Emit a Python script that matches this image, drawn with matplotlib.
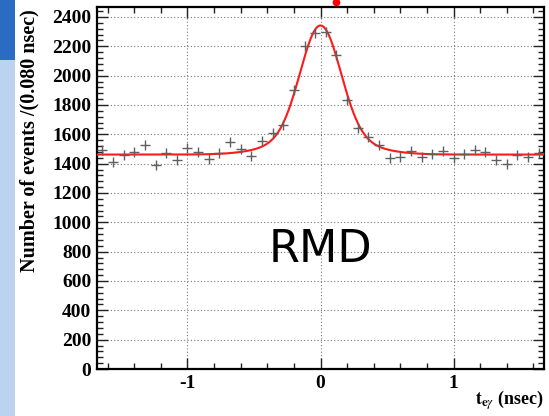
import numpy as np
import matplotlib
matplotlib.use("Agg")
import matplotlib.pyplot as plt
import matplotlib.patches as patches
from matplotlib.lines import Line2D
from matplotlib.ticker import MultipleLocator

# bin centres (nsec) and counts per 0.080 nsec bin
t_left = [-1.64, -1.56, -1.48, -1.40, -1.32, -1.24, -1.16, -1.08, -1.00, -0.92, -0.84,
          -0.76, -0.68, -0.60, -0.52, -0.44, -0.36, -0.28, -0.20, -0.12, -0.04]
n_left = [1490, 1408, 1458, 1480, 1527, 1390, 1470, 1425, 1510, 1478, 1430,
          1470, 1546, 1498, 1452, 1557, 1612, 1664, 1903, 2200, 2289]
t_right = [0.04, 0.12, 0.20, 0.28, 0.36, 0.44, 0.52, 0.60, 0.68, 0.76, 0.84,
           0.92, 1.00, 1.08, 1.16, 1.24, 1.32, 1.40, 1.48, 1.56, 1.64]
n_right = [2300, 2141, 1834, 1641, 1580, 1525, 1437, 1444, 1489, 1448, 1466,
           1489, 1437, 1466, 1493, 1477, 1425, 1398, 1459, 1444, 1470]

# fitted curve: flat background + two gaussians (amplitude, sigma)
fit_base = 1462
fit_mean = 0.0
fit_amp = [750, 130]
fit_sigma = [0.15, 0.30]

x_ticks = [-1, 0, 1]
y_ticks = list(range(0, 2401, 200))

t = np.array(t_left + t_right)
n = np.array(n_left + n_right)

plt.rcParams['axes.unicode_minus'] = False
plt.rcParams['mathtext.fontset'] = 'stix'

fig = plt.figure(figsize=(5.49, 4.16), dpi=100)

# slide decoration on the left edge
fig.add_artist(patches.Rectangle((0, 0), 15 / 549, 356 / 416, transform=fig.transFigure,
                                 facecolor='#bcd3f0', edgecolor='none'))
fig.add_artist(patches.Rectangle((0, 356 / 416), 15 / 549, 60 / 416, transform=fig.transFigure,
                                 facecolor='#2b6cc2', edgecolor='none'))
fig.add_artist(Line2D([336 / 549], [414 / 416], transform=fig.transFigure, marker='o',
                      markersize=4.5, color='red', linestyle='none'))

ax = fig.add_axes([97 / 549, 47 / 416, 447 / 549, 362 / 416])

xx = np.linspace(-1.68, 1.68, 600)
yy = fit_base + sum(a * np.exp(-0.5 * ((xx - fit_mean) / s) ** 2) for a, s in zip(fit_amp, fit_sigma))
ax.plot(xx, yy, color='#ff1a1a', lw=1.5, zorder=3)

ax.plot(t, n, linestyle='none', marker='+', markersize=7.5, markeredgewidth=1.0,
        color='#606060', zorder=4)

ax.set_xlim(-1.68, 1.68)
ax.set_ylim(0, 2468)
ax.set_xticks(x_ticks)
ax.set_yticks(y_ticks)
ax.xaxis.set_minor_locator(MultipleLocator(0.2))
ax.yaxis.set_minor_locator(MultipleLocator(40))
ax.grid(True, which='major', linestyle=(0, (1, 2)), color='#777777', lw=0.8)

ax.tick_params(which='both', direction='in', top=True, right=True, width=1.0, color='#222222')
ax.tick_params(which='major', length=8, pad=4)
ax.tick_params(which='minor', length=4.5)
for sp in ax.spines.values():
    sp.set_linewidth(1.6)

for lab in ax.get_xticklabels() + ax.get_yticklabels():
    lab.set_fontfamily('Liberation Serif')
    lab.set_fontweight('bold')
    lab.set_fontsize(14)

ax.set_ylabel('Number of events /(0.080 nsec)', fontfamily='Liberation Serif',
              fontweight='bold', fontsize=14.5)
ax.yaxis.set_label_coords(-0.128, 0.63)

fig.text(544 / 549, 16 / 416, r'$\mathbf{t}_{\mathbf{e}\gamma}$ (nsec)', ha='right', va='center',
         fontfamily='Liberation Serif', fontweight='bold', fontsize=13)

ax.text(0.0, 815, 'RMD', ha='center', va='center', fontsize=32, fontfamily='DejaVu Sans')

fig.savefig('out.png', dpi=100)
